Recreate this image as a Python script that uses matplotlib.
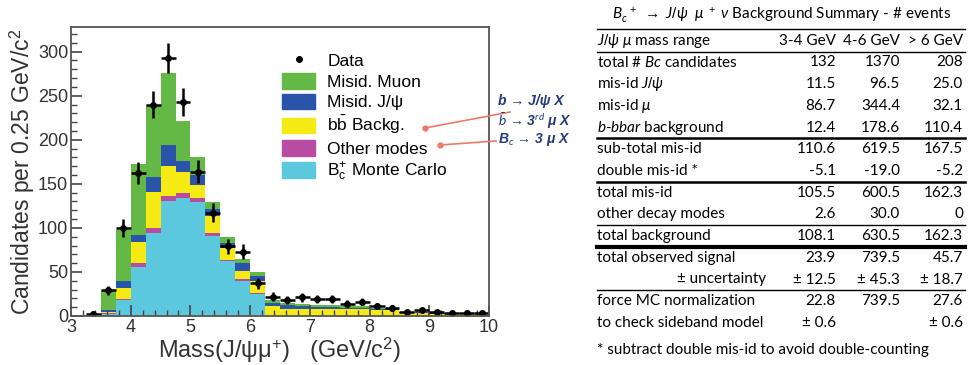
import numpy as np
import matplotlib.pyplot as plt
from matplotlib.patches import Patch
from matplotlib.lines import Line2D
from matplotlib.ticker import MultipleLocator

plt.rcParams['font.family'] = ['Liberation Sans', 'DejaVu Sans']
plt.rcParams['mathtext.fontset'] = 'custom'
plt.rcParams['mathtext.rm'] = 'Liberation Sans'
plt.rcParams['mathtext.it'] = 'Lato:italic'
plt.rcParams['mathtext.fallback'] = 'stixsans'

# 0.25 GeV bins from 3 to 10 GeV
edges = np.arange(3.0, 10.01, 0.25)
data = [0, 2, 29, 100, 162, 240, 293, 243, 164, 117, 79, 73, 37, 22,
        18, 21, 19, 19, 14, 16, 11, 9, 5, 7, 4, 3, 3, 3]
mc_bc = [0, 0.5, 2.5, 18, 56, 94, 131, 134, 129, 91, 62, 40, 25, 0,
         0, 0, 0, 0, 0, 0, 0, 0, 0, 0, 0, 0, 0, 0]
other = [0, 0.2, 0.6, 1.8, 4, 6, 5, 5.5, 5, 3, 2, 1.5, 1, 0,
         0, 0, 0, 0, 0, 0, 0, 0, 0, 0, 0, 0, 0, 0]
bbbar = [0, 0.2, 1.0, 12, 24, 41, 34, 24.5, 15, 20, 13, 10, 14, 11,
         8.5, 8, 7.5, 7.5, 7.5, 7.5, 6.5, 6.5, 3.5, 3.5, 2.5, 2.5, 2.5, 2]
misid_jpsi = [0, 0.3, 2.5, 8, 8, 17, 24, 12, 11, 7, 6, 8.5, 5, 4,
              4, 3, 2.5, 3, 2, 2, 1.5, 1, 0.8, 0.8, 0.5, 0.5, 0.5, 0.4]
misid_mu = [0, 0.5, 23, 58, 80, 82, 82, 45, 20, 8, 7, 5, 5, 3.5,
            2.5, 3, 2.5, 2, 2, 2, 1.5, 1.5, 0.7, 0.7, 0.5, 0.5, 0.5, 0.4]

legend_labels = ['Data', 'Misid. Muon', 'Misid. J/ψ', r'b$\bar{\rm b}$ Backg.',
                 'Other modes', r'B$_{\rm c}^{+}$ Monte Carlo']

# table
table_title = r'$B_c^{\ \ +}$ $\rightarrow$ $J/\psi\ \ \mu^{\ +}\ \nu$ Background Summary - # events'
col_heads = ['3-4 GeV', '4-6 GeV', '> 6 GeV']
row_labels = [r'total # $Bc$ candidates', r'mis-id $J/\psi$', r'mis-id $\mu$',
              r'$b$-$bbar$ background', 'sub-total mis-id', 'double mis-id *',
              'total mis-id', 'other decay modes', 'total background',
              'total observed signal', '± uncertainty', 'force MC normalization',
              'to check sideband model']
col_34 = ['132', '11.5', '86.7', '12.4', '110.6', '-5.1', '105.5', '2.6',
          '108.1', '23.9', '± 12.5', '22.8', '± 0.6']
col_46 = ['1370', '96.5', '344.4', '178.6', '619.5', '-19.0', '600.5', '30.0',
          '630.5', '739.5', '± 45.3', '739.5', '']
col_6 = ['208', '25.0', '32.1', '110.4', '167.5', '-5.2', '162.3', '0',
         '162.3', '45.7', '± 18.7', '27.6', '± 0.6']
footnote = '* subtract double mis-id to avoid double-counting'

fig = plt.figure(figsize=(9.69, 3.65), dpi=100)
W, H = 969, 365
ax = fig.add_axes([71 / W, 1 - 316 / H, 418 / W, 289 / H])

colors = ['#5cc8dd', '#b84ca2', '#f6ea14', '#2a53aa', '#63b846']
bottom = np.zeros(len(data))
for vals, c in zip([mc_bc, other, bbbar, misid_jpsi, misid_mu], colors):
    vals = np.array(vals, dtype=float)
    ax.stairs(bottom + vals, edges, baseline=bottom.copy(), fill=True, color=c, lw=0)
    bottom += vals

centers = (edges[:-1] + edges[1:]) / 2
d = np.array(data, dtype=float)
m = d > 0
ax.errorbar(centers[m], d[m], yerr=np.sqrt(d[m]), xerr=0.125, fmt='o', ms=4,
            color='k', elinewidth=1.8, capsize=0)

ax.set_xlim(3, 10)
ax.set_ylim(0, 328)
ax.xaxis.set_major_locator(MultipleLocator(1))
ax.xaxis.set_minor_locator(MultipleLocator(0.2))
ax.yaxis.set_major_locator(MultipleLocator(50))
ax.yaxis.set_minor_locator(MultipleLocator(10))
ax.tick_params(which='both', direction='in', labelsize=13, labelcolor='#333333',
               color='#444444', pad=2)
ax.tick_params(which='major', length=8, width=1.2)
ax.tick_params(which='minor', length=4, width=1.0)
for s in ax.spines.values():
    s.set_color('#555555')
    s.set_linewidth(1.3)
ax.set_xlabel('Mass(J/ψμ$^{+}$)   (GeV/c$^{2}$)', fontsize=17, color='#333333', labelpad=0)
ax.set_ylabel('Candidates per 0.25 GeV/c$^{2}$', fontsize=16.5, color='#333333', labelpad=1)

handles = [Line2D([], [], marker='o', ls='', color='k', ms=4)]
handles += [Patch(color=c) for c in colors[::-1]]
ax.legend(handles, legend_labels, loc='upper left', bbox_to_anchor=(0.505, 0.912),
          frameon=False, fontsize=12.5, handlelength=1.9, handleheight=1.0,
          handletextpad=0.7, labelspacing=0.22, borderpad=0, borderaxespad=0)

# annotations pointing at legend entries
navy = '#24397a'
red = '#f07868'
fig.text(498 / W, 1 - 101 / H, 'b → J/ψ X', fontsize=10, color=navy,
         style='italic', weight='bold', va='center')
fig.text(498 / W, 1 - 121 / H, r'$\bar{b}$ → 3$^{rd}$ μ X', fontsize=10, color=navy,
         style='italic', weight='bold', va='center')
fig.text(498 / W, 1 - 140 / H, r'B$_c$ → 3 μ X', fontsize=10, color=navy,
         style='italic', weight='bold', va='center')
fig.add_artist(Line2D([510 / W, 425 / W], [1 - 112 / H, 1 - 128 / H], color=red,
                      lw=1.2, marker='o', ms=3.5, markevery=[1], transform=fig.transFigure))
fig.add_artist(Line2D([496 / W, 440 / W], [1 - 141 / H, 1 - 145 / H], color=red,
                      lw=1.2, marker='o', ms=3.5, markevery=[1], transform=fig.transFigure))

# background summary table
tfam = ['Lato', 'DejaVu Sans']
tsize = 11
x_lab, x_cols = 597, [836, 900, 963]
fig.text(782 / W, 1 - 16 / H, table_title, family=tfam, fontsize=tsize,
         ha='center', va='center')
fig.text(x_lab / W, 1 - 41 / H, r'$J/\psi\ \mu$ mass range', family=tfam,
         fontsize=tsize, va='center')
for xc, h in zip(x_cols, col_heads):
    fig.text(xc / W, 1 - 41 / H, h, family=tfam, fontsize=tsize, ha='right', va='center')
for i, lab in enumerate(row_labels):
    y = 1 - (62.5 + 21.7 * i) / H
    xl = 677 if lab.startswith('±') else x_lab
    fig.text(xl / W, y, lab, family=tfam, fontsize=tsize, va='center')
    for xc, v in zip(x_cols, [col_34[i], col_46[i], col_6[i]]):
        fig.text(xc / W, y, v, family=tfam, fontsize=tsize, ha='right', va='center')
fig.text(x_lab / W, 1 - 350 / H, footnote, family=tfam, fontsize=tsize, va='center')

for yp, lw in [(29, 1.0), (51.5, 1.0), (138, 1.8), (181.5, 1.8), (225, 1.0),
               (247, 3.0), (290, 1.0)]:
    fig.add_artist(Line2D([597 / W, 965 / W], [1 - yp / H, 1 - yp / H], color='k',
                          lw=lw, transform=fig.transFigure))

fig.savefig('out.png', dpi=100)
